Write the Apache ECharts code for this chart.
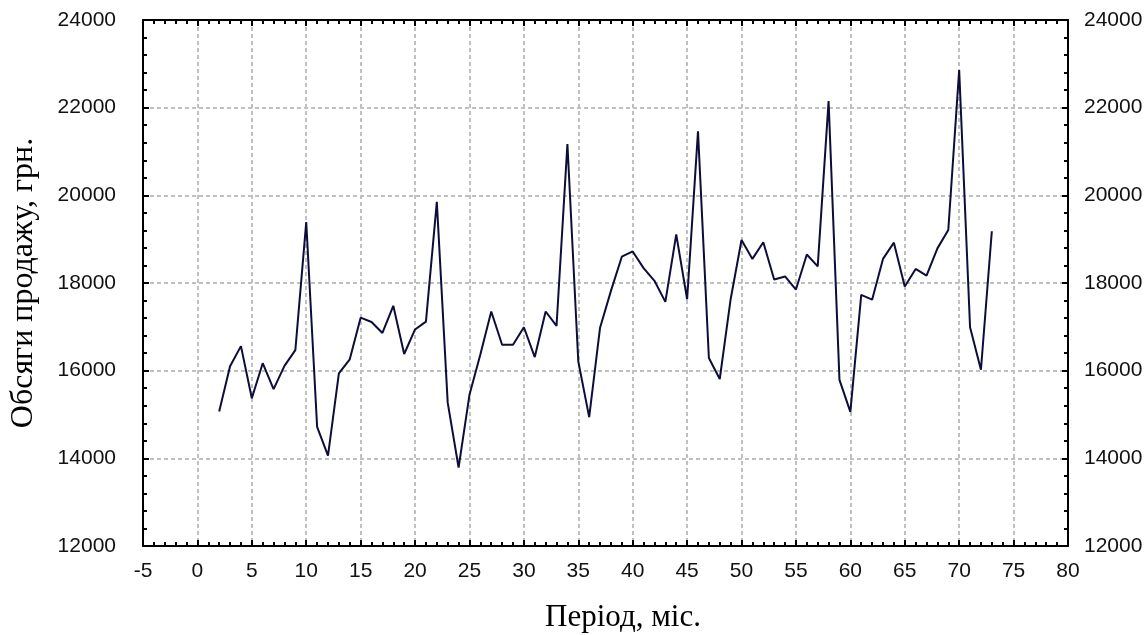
<!DOCTYPE html>
<html>
<head>
<meta charset="utf-8">
<script src="https://cdn.jsdelivr.net/npm/echarts@6/dist/echarts.min.js"></script>
<style>
  html, body { margin: 0; padding: 0; background: #fff; }
  #chart { width: 1147px; height: 635px; }
</style>
</head>
<body>
<div id="chart"></div>
<script>
// місяці (період) та обсяги продажу
var periods = [2, 3, 4, 5, 6, 7, 8, 9, 10, 11, 12, 13, 14, 15, 16, 17, 18, 19, 20, 21,
  22, 23, 24, 25, 26, 27, 28, 29, 30, 31, 32, 33, 34, 35, 36, 37, 38, 39, 40, 41,
  42, 43, 44, 45, 46, 47, 48, 49, 50, 51, 52, 53, 54, 55, 56, 57, 58, 59, 60, 61,
  62, 63, 64, 65, 66, 67, 68, 69, 70, 71, 72, 73];
var sales = [15070, 16100, 16560, 15370, 16170, 15580, 16110, 16470, 19390, 14720,
  14060, 15940, 16260, 17210, 17110, 16860, 17480, 16380, 16940, 17120,
  19850, 15270, 13790, 15450, 16370, 17350, 16590, 16590, 16990, 16310,
  17350, 17020, 21170, 16210, 14940, 16980, 17820, 18600, 18720, 18340,
  18050, 17570, 19110, 17630, 21460, 16290, 15810, 17630, 18980, 18550,
  18930, 18080, 18150, 17850, 18650, 18380, 22150, 15790, 15060, 17730,
  17620, 18550, 18920, 17920, 18320, 18170, 18790, 19210, 22860, 16990,
  16020, 19180];

var xTitle = 'Період, міс.';
var yTitle = 'Обсяги продажу, грн.';

var points = periods.map(function (p, i) { return [p, sales[i]]; });

var myChart = echarts.init(document.getElementById('chart'));

var labelFont = { fontFamily: 'Liberation Sans', fontSize: 21, color: '#111',
  formatter: function (v) { return String(v); } };
var axisLine = { show: true, onZero: false, lineStyle: { color: '#000', width: 2 } };
var tick = { show: true, inside: true, length: 6, lineStyle: { color: '#000', width: 2 } };
var minor = { show: true, splitNumber: 5, length: 4, lineStyle: { color: '#000', width: 2 } };
var split = { show: true, lineStyle: { color: '#c0c0c0', width: 2, type: [4, 3] } };

function xAx(pos, showLabel) {
  return {
    type: 'value', position: pos, min: -5, max: 80, interval: 5,
    axisLine: axisLine, axisTick: tick, minorTick: minor,
    splitLine: showLabel ? split : { show: false },
    axisLabel: Object.assign({ show: showLabel, margin: 15 }, labelFont),
    name: showLabel ? xTitle : '', nameLocation: 'middle', nameGap: 56,
    nameTextStyle: { fontFamily: 'Liberation Serif', fontSize: 31, color: '#000', padding: [0, 0, 0, 35] }
  };
}
function yAx(pos, showName, margin) {
  return {
    type: 'value', position: pos, min: 12000, max: 24000, interval: 2000,
    axisLine: axisLine, axisTick: tick, minorTick: minor,
    splitLine: showName ? split : { show: false },
    axisLabel: Object.assign({ margin: margin }, labelFont),
    name: showName ? yTitle : '', nameLocation: 'middle', nameGap: 85,
    nameTextStyle: { fontFamily: 'Liberation Serif', fontSize: 32, color: '#000', padding: [0, 0, 18, 0] }
  };
}

var option = {
  animation: false,
  grid: { left: 143, right: 79, top: 20, bottom: 89, containLabel: false, outerBoundsMode: 'none' },
  xAxis: [xAx('bottom', true), xAx('top', false)],
  yAxis: [yAx('left', true, 27), yAx('right', false, 16)],
  series: [{
    type: 'line',
    data: points,
    showSymbol: false,
    symbol: 'none',
    lineStyle: { color: '#0d0d3a', width: 2 }
  }]
};

myChart.setOption(option);
</script>
</body>
</html>
